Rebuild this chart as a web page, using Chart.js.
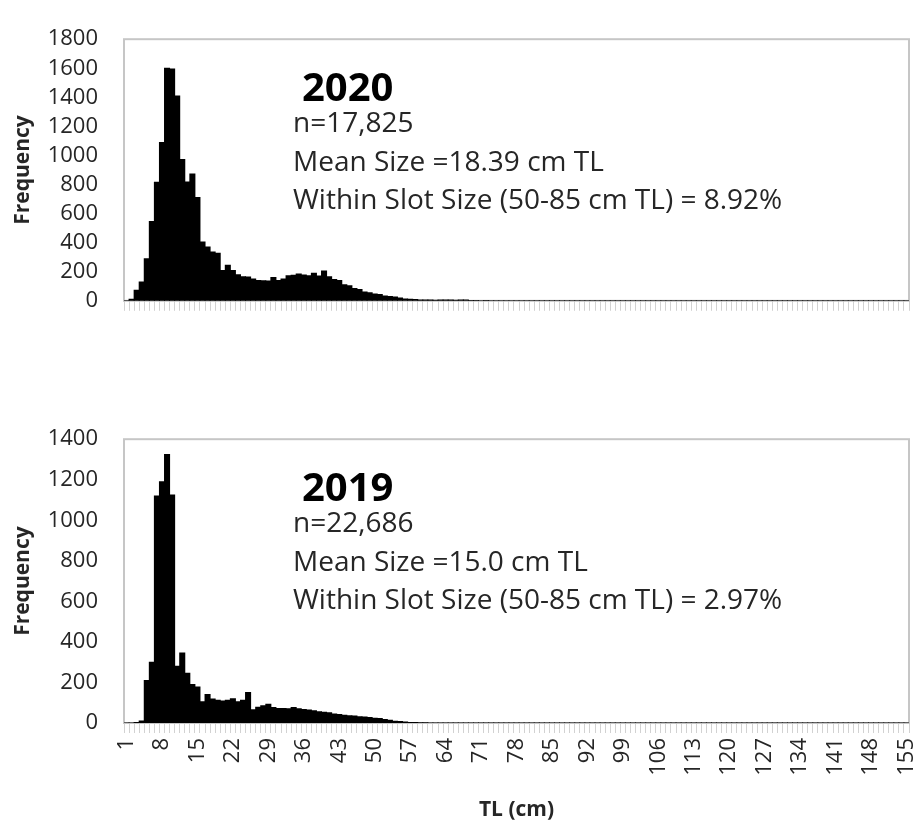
<!DOCTYPE html>
<html>
<head>
<meta charset="utf-8">
<script src="https://cdn.jsdelivr.net/npm/chart.js@4.4.1/dist/chart.umd.min.js"></script>
<style>
  html, body { margin: 0; padding: 0; background: #fff; }
  .page { position: relative; width: 919px; height: 823px; overflow: hidden; }
  .panel { position: absolute; left: 0; }
  #panel-2020 { top: 0; }
  #panel-2019 { top: 400px; }
</style>
</head>
<body>
<div class="page">
  <div class="panel" id="panel-2020"><canvas id="chart-2020" width="919" height="340"></canvas></div>
  <div class="panel" id="panel-2019"><canvas id="chart-2019" width="919" height="423"></canvas></div>
</div>
<script>
// size classes, 1..155 cm TL
const sizeBins = Array.from({length: 155}, (_, i) => String(i + 1))
const shownTicks = ['1', '8', '15', '22', '29', '36', '43', '50', '57', '64', '71', '78', '85', '92',
  '99', '106', '113', '120', '127', '134', '141', '148', '155']

const freq2020 = [
  0, 10, 72, 130, 290, 545, 815, 1090, 1600, 1595,
  1410, 972, 817, 873, 710, 405, 370, 335, 328, 208,
  245, 208, 180, 165, 163, 150, 140, 138, 136, 160,
  140, 150, 172, 176, 185, 178, 172, 190, 170, 205,
  166, 146, 140, 110, 104, 84, 78, 60, 55, 46,
  43, 33, 30, 27, 20, 12, 10, 9, 6, 6,
  5, 3, 6, 6, 5, 3, 6, 5, 2, 2,
  1, 2, 1, 1, 1, 0, 0, 0, 0, 0,
  0, 0, 0, 0, 0, 0, 0, 0, 0, 0,
  0, 0, 0, 0, 0, 0, 0, 0, 0, 0,
  0, 0, 0, 0, 0, 0, 0, 0, 0, 0,
  0, 0, 0, 0, 0, 0, 0, 0, 0, 0,
  0, 0, 0, 0, 0, 0, 0, 0, 0, 0,
  0, 0, 0, 0, 0, 0, 0, 0, 0, 0,
  0, 0, 0, 0, 0, 0, 0, 0, 0, 0,
  0, 0, 0, 0, 0
]

const freq2019 = [
  0, 0, 3, 10, 210, 300, 1120, 1190, 1325, 1125,
  280, 345, 245, 190, 178, 105, 140, 118, 112, 108,
  112, 120, 105, 112, 150, 65, 78, 85, 92, 76,
  72, 72, 70, 76, 70, 66, 64, 60, 56, 53,
  50, 45, 42, 38, 36, 34, 31, 29, 27, 24,
  22, 17, 14, 9, 7, 5, 3, 2, 1, 1,
  0, 0, 0, 0, 0, 0, 0, 0, 0, 0,
  0, 0, 0, 0, 0, 0, 0, 0, 0, 0,
  0, 0, 0, 0, 0, 0, 0, 0, 0, 0,
  0, 0, 0, 0, 0, 0, 0, 0, 0, 0,
  0, 0, 0, 0, 0, 0, 0, 0, 0, 0,
  0, 0, 0, 0, 0, 0, 0, 0, 0, 0,
  0, 0, 0, 0, 0, 0, 0, 0, 0, 0,
  0, 0, 0, 0, 0, 0, 0, 0, 0, 0,
  0, 0, 0, 0, 0, 0, 0, 0, 0, 0,
  0, 0, 0, 0, 0
]

const notes2020 = ['n=17,825', 'Mean Size =18.39 cm TL', 'Within Slot Size (50-85 cm TL) = 8.92%']
const notes2019 = ['n=22,686', 'Mean Size =15.0 cm TL', 'Within Slot Size (50-85 cm TL) = 2.97%']

Chart.defaults.font.family = '"Open Sans", sans-serif'
Chart.defaults.color = '#262626'

// grey box round the plot area
const plotFrame = {
  id: 'plotFrame',
  beforeDatasetsDraw(chart) {
    const {ctx, chartArea: a} = chart
    ctx.save()
    ctx.strokeStyle = '#c6c6c6'
    ctx.lineWidth = 2
    ctx.strokeRect(a.left, a.top, a.right - a.left, a.bottom - a.top)
    ctx.restore()
  }
}

// year + summary lines inside the plot
const summaryText = {
  id: 'summaryText',
  afterDraw(chart, args, opts) {
    const {ctx, chartArea} = chart
    ctx.save()
    ctx.textBaseline = 'alphabetic'
    ctx.textAlign = 'left'
    ctx.fillStyle = '#000'
    ctx.font = 'bold 40px "Open Sans"'
    ctx.fillText(opts.year, opts.x + 9, chartArea.top + opts.offsets[0])
    ctx.fillStyle = '#262626'
    ctx.font = '28px "Open Sans"'
    opts.lines.forEach((line, i) => {
      ctx.fillText(line, opts.x, chartArea.top + opts.offsets[i + 1])
    })
    ctx.restore()
  }
}

const makeConfig = (values, yMax, year, lines, showLabels, topPad, axisHeight) => ({
  type: 'bar',
  data: {
    labels: sizeBins,
    datasets: [{
      label: year,
      data: values,
      backgroundColor: '#000',
      borderWidth: 0,
      barPercentage: 1,
      categoryPercentage: 1,
      inflateAmount: 0.5
    }]
  },
  options: {
    responsive: false,
    animation: false,
    layout: {padding: {top: topPad, right: 10, left: 0, bottom: 0}},
    plugins: {
      legend: {display: false},
      tooltip: {enabled: false},
      summaryText: {year: year, lines: lines, x: 293, offsets: [62, 93, 132, 170]}
    },
    scales: {
      x: {
        offset: true,
        grid: {display: true, offset: true, drawOnChartArea: false, drawTicks: true, tickLength: 10, color: '#d2d2d2'},
        border: {display: false},
        ticks: {
          display: showLabels,
          autoSkip: false,
          maxRotation: 90,
          minRotation: 90,
          padding: 5,
          font: {size: 22},
          callback(value) {
            const lab = this.getLabelForValue(value)
            return shownTicks.includes(lab) ? lab : ''
          }
        },
        title: {display: showLabels, text: 'TL (cm)', font: {size: 21, weight: 'bold'}, padding: {top: 0, bottom: 0}},
        afterFit(scale) {
          scale.height = axisHeight
          scale.paddingLeft = 0
          scale.paddingRight = 0
        }
      },
      y: {
        min: 0,
        max: yMax,
        grid: {display: false, drawTicks: false},
        border: {display: false},
        ticks: {stepSize: 200, padding: 26, font: {size: 22}, callback: (v) => String(v)},
        title: {display: true, text: 'Frequency', font: {size: 21, weight: 'bold'}, padding: {top: 10, bottom: 0}},
        afterFit(scale) {
          scale.width = 124
        }
      }
    }
  },
  plugins: [plotFrame, summaryText]
})

new Chart(document.getElementById('chart-2020'), makeConfig(freq2020, 1800, '2020', notes2020, false, 21, 22))
new Chart(document.getElementById('chart-2019'), makeConfig(freq2019, 1400, '2019', notes2019, true, 27, 100))
</script>
</body>
</html>
